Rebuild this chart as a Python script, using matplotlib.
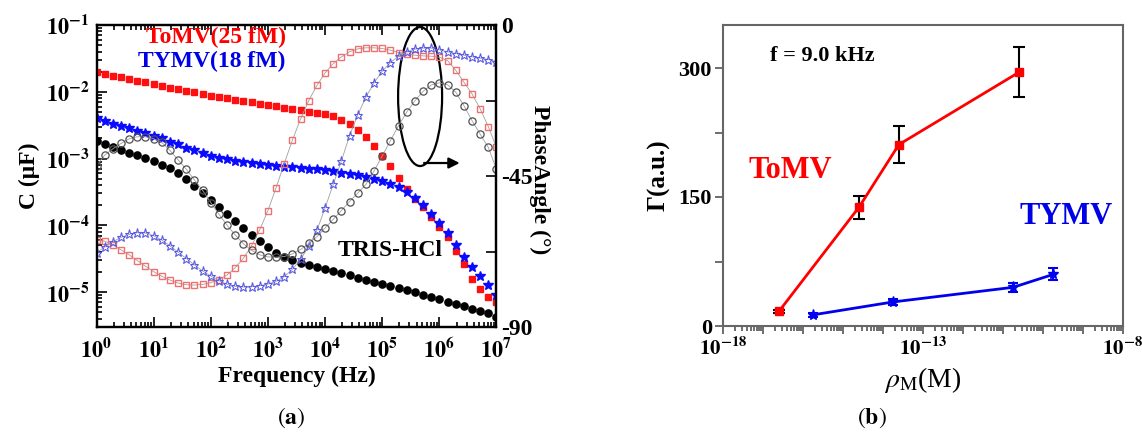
import numpy as np
import matplotlib
matplotlib.use('Agg')
import matplotlib.pyplot as plt
from matplotlib.patches import Ellipse
from matplotlib.ticker import FixedLocator, LogLocator, FuncFormatter, NullFormatter

plt.rcParams['font.family'] = ['Liberation Serif', 'DejaVu Serif']
plt.rcParams['mathtext.fontset'] = 'stix'

# ---------------- data: panel (a) ----------------
freq_hz = np.logspace(0, 7, 50)

# log10 of capacitance (uF)
tomv_logC = [-1.70, -1.73, -1.76, -1.78, -1.81, -1.84, -1.86, -1.89, -1.91, -1.94,
             -1.96, -1.99, -2.01, -2.04, -2.06, -2.08, -2.10, -2.12, -2.14, -2.16,
             -2.18, -2.20, -2.22, -2.24, -2.26, -2.28, -2.30, -2.32, -2.34, -2.37,
             -2.42, -2.49, -2.58, -2.68, -2.81, -2.96, -3.11, -3.29, -3.46, -3.60,
             -3.73, -3.87, -4.02, -4.17, -4.38, -4.58, -4.80, -4.96, -5.07, -5.15]
tymv_logC = [-2.40, -2.44, -2.48, -2.52, -2.55, -2.59, -2.62, -2.66, -2.70, -2.75,
             -2.79, -2.84, -2.88, -2.92, -2.96, -2.99, -3.01, -3.03, -3.05, -3.07,
             -3.08, -3.10, -3.11, -3.12, -3.13, -3.14, -3.15, -3.16, -3.17, -3.19,
             -3.21, -3.23, -3.25, -3.27, -3.30, -3.34, -3.38, -3.43, -3.50, -3.59,
             -3.70, -3.83, -3.97, -4.12, -4.30, -4.47, -4.62, -4.76, -4.89, -5.04]
tris_logC = [-2.74, -2.78, -2.83, -2.87, -2.91, -2.95, -2.99, -3.03, -3.09, -3.14,
             -3.22, -3.31, -3.41, -3.51, -3.62, -3.73, -3.83, -3.94, -4.04, -4.14,
             -4.24, -4.33, -4.41, -4.47, -4.52, -4.56, -4.60, -4.63, -4.66, -4.69,
             -4.72, -4.75, -4.79, -4.82, -4.85, -4.88, -4.91, -4.94, -4.97, -5.00,
             -5.04, -5.07, -5.11, -5.15, -5.18, -5.21, -5.25, -5.28, -5.32, -5.37]

# phase angle (degrees)
tomv_phase = [-64.0, -64.4, -65.5, -67.0, -68.5, -70.2, -71.9, -73.5, -74.9, -76.0,
              -76.9, -77.4, -77.5, -77.3, -76.8, -75.9, -74.5, -72.3, -69.5, -65.8,
              -61.0, -55.3, -48.5, -41.3, -34.3, -28.0, -22.5, -18.0, -14.3, -11.5,
              -9.5, -8.0, -7.1, -6.8, -6.8, -7.0, -7.5, -8.2, -8.6, -9.0,
              -9.2, -9.3, -9.6, -10.6, -13.5, -17.0, -20.5, -25.0, -30.3, -36.5]
tymv_phase = [-67.8, -66.2, -64.6, -63.3, -62.4, -61.9, -62.0, -62.8, -64.1, -65.8,
              -67.7, -69.6, -71.5, -73.3, -74.8, -76.2, -77.3, -77.9, -78.1, -78.0,
              -77.7, -77.2, -76.4, -75.0, -72.8, -69.8, -66.0, -61.2, -54.5, -47.5,
              -40.5, -33.0, -26.8, -21.5, -17.2, -13.8, -11.2, -9.3, -8.0, -7.2,
              -6.9, -6.9, -7.4, -8.0, -8.5, -9.0, -9.5, -9.9, -10.3, -10.9]
tris_phase = [-42.0, -38.8, -36.9, -35.3, -33.9, -33.3, -33.3, -33.9, -35.0, -37.4,
              -40.2, -43.0, -46.2, -49.3, -52.9, -56.4, -59.7, -62.6, -65.2, -67.2,
              -68.5, -69.1, -69.2, -69.0, -68.2, -66.9, -65.1, -63.1, -60.5, -57.9,
              -55.3, -52.6, -50.1, -47.5, -43.5, -39.0, -34.5, -30.0, -26.0, -22.6,
              -19.8, -17.9, -17.2, -17.8, -20.0, -24.0, -28.5, -32.5, -36.5, -43.0]

# ---------------- data: panel (b) ----------------
conc_tomv = [2.5e-17, 2.5e-15, 2.5e-14, 2.5e-11]
gamma_tomv = [17, 138, 211, 295]
err_tomv = [2, 13, 21, 29]
conc_tymv = [1.8e-16, 1.8e-14, 1.8e-11, 1.8e-10]
gamma_tymv = [13, 28, 45, 60]
err_tymv = [2, 3, 5, 7]

W, H = 1142, 432
fig = plt.figure(figsize=(W / 100, H / 100), dpi=100)


def fx(px):
    return px / W


def fy(py):
    return 1 - py / H


bold_pow = FuncFormatter(lambda v, p: r'$\mathbf{10^{%d}}$' % int(round(np.log10(v))))

# ---------------- panel (a) ----------------
ax = fig.add_axes([fx(96.5), fy(327), 400 / W, 302 / H])
ax.set_xscale('log')
ax.set_yscale('log')
ax.set_xlim(1, 1e7)
ax.set_ylim(10 ** -5.524, 1e-1)

ax.plot(freq_hz, 10 ** np.array(tomv_logC), 's', color='#ff1010', ms=4.6, mec='#ff1010', zorder=3)
ax.plot(freq_hz, 10 ** np.array(tymv_logC), '*', color='#0a0aff', ms=7, mec='#0a0aff', zorder=3)
ax.plot(freq_hz, 10 ** np.array(tris_logC), 'o', color='black', ms=5.2, zorder=3)

ax.xaxis.set_major_locator(LogLocator(base=10, numticks=20))
ax.xaxis.set_minor_locator(LogLocator(base=10, subs=np.arange(2, 10), numticks=20))
ax.yaxis.set_major_locator(LogLocator(base=10, numticks=20))
ax.yaxis.set_minor_locator(LogLocator(base=10, subs=np.arange(2, 10), numticks=20))
ax.xaxis.set_major_formatter(bold_pow)
ax.yaxis.set_major_formatter(bold_pow)
ax.xaxis.set_minor_formatter(NullFormatter())
ax.yaxis.set_minor_formatter(NullFormatter())
ax.tick_params(which='both', direction='in', top=True, right=False, width=1.2)
ax.tick_params(which='major', length=7, labelsize=16, pad=5)
ax.tick_params(axis='x', which='major', pad=8)
ax.tick_params(which='minor', length=3.5)
for s in ax.spines.values():
    s.set_linewidth(1.6)

ax2 = ax.twinx()
ax2.set_ylim(-90, 0)
ax2.plot(freq_hz, tomv_phase, 's', ls='-', lw=0.6, color='#a0a0a0', mfc='none',
         mec='#f07070', ms=4.8, mew=1.0)
ax2.plot(freq_hz, tymv_phase, '*', ls='-', lw=0.6, color='#a0a0a0', mfc='none',
         mec='#5a5ae6', ms=6.5, mew=0.8)
ax2.plot(freq_hz, tris_phase, 'o', ls='-', lw=0.6, color='#a0a0a0', mfc='none',
         mec='#505050', ms=5.2, mew=0.9)
ax2.yaxis.set_major_locator(FixedLocator([-90, -45, 0]))
ax2.yaxis.set_minor_locator(FixedLocator([-67.5, -22.5]))
ax2.yaxis.set_major_formatter(FuncFormatter(lambda v, p: '%d' % v))
ax2.tick_params(which='both', direction='in', width=1.2)
ax2.tick_params(which='major', length=7, labelsize=17, pad=3)
ax2.tick_params(which='minor', length=7)
for lab in ax2.get_yticklabels():
    lab.set_fontweight('bold')
for s in ax2.spines.values():
    s.set_linewidth(1.6)

ax.add_patch(Ellipse((0.809, 0.763), 0.11, 0.46, transform=ax.transAxes,
                     fill=False, lw=1.6, ec='black', zorder=5))
ax.annotate('', xy=(0.915, 0.543), xytext=(0.812, 0.543), xycoords='axes fraction',
            arrowprops=dict(arrowstyle='-|>', color='black', lw=1.6, mutation_scale=16),
            zorder=5)

ax.set_xlabel('Frequency (Hz)', fontsize=17, fontweight='bold', labelpad=2)
ax.set_ylabel('C (μF)', fontsize=17, fontweight='bold', labelpad=4)
fig.text(fx(540), fy(180), 'PhaseAngle (°)', rotation=-90, ha='center', va='center',
         fontsize=17, fontweight='bold')

fig.text(fx(216), fy(37), 'ToMV(25 fM)', color='#ff0000', fontsize=17, fontweight='bold',
         ha='center', va='center')
fig.text(fx(212), fy(61), 'TYMV(18 fM)', color='#0000e6', fontsize=17, fontweight='bold',
         ha='center', va='center')
fig.text(fx(390), fy(250), 'TRIS-HCl', color='black', fontsize=17, fontweight='bold',
         ha='center', va='center')
fig.text(fx(291), fy(418), r'$(\mathbf{a})$', fontsize=17, ha='center', va='center')

# ---------------- panel (b) ----------------
bx = fig.add_axes([fx(723), fy(326), 400 / W, 301 / H])
bx.set_xscale('log')
bx.set_xlim(1e-18, 1e-8)
bx.set_ylim(0, 350)
bx.errorbar(conc_tomv, gamma_tomv, yerr=err_tomv, color='#ff0000', lw=2, marker='s', ms=6,
            ecolor='black', elinewidth=1.5, capsize=4, capthick=1.5, zorder=3)
bx.errorbar(conc_tymv, gamma_tymv, yerr=err_tymv, color='#0000ee', lw=2, marker='*', ms=8,
            ecolor='#0000ee', elinewidth=1.5, capsize=3.5, capthick=1.5, zorder=3)

bx.xaxis.set_major_locator(LogLocator(base=10, numticks=20))
bx.xaxis.set_minor_locator(LogLocator(base=10, subs=np.arange(2, 10), numticks=20))
bx.xaxis.set_major_formatter(FuncFormatter(
    lambda v, p: (r'$\mathbf{10^{%d}}$' % int(round(np.log10(v))))
    if int(round(np.log10(v))) in (-18, -13, -8) else ''))
bx.xaxis.set_minor_formatter(NullFormatter())
bx.yaxis.set_major_locator(FixedLocator([0, 150, 300]))
bx.yaxis.set_minor_locator(FixedLocator([75, 225]))
bx.tick_params(which='both', direction='out', width=1.2, color='#555555')
bx.tick_params(which='major', length=6, labelsize=16, pad=2)
bx.tick_params(axis='x', which='major', labelsize=15)
bx.tick_params(which='minor', length=3.5)
bx.tick_params(axis='y', which='minor', length=6)
for lab in bx.get_yticklabels():
    lab.set_fontweight('bold')
for s in bx.spines.values():
    s.set_linewidth(1.5)
    s.set_color('#666666')

bx.set_ylabel('Γ(a.u.)', fontsize=18, fontweight='bold', labelpad=6)
bx.set_xlabel(r'$\rho_{\mathrm{M}}$(M)', fontsize=20, labelpad=4)
fig.text(fx(822), fy(56), 'f = 9.0 kHz', fontsize=16, fontweight='bold', ha='center', va='center')
fig.text(fx(790), fy(171), 'ToMV', color='#ff0000', fontsize=22, fontweight='bold',
         ha='center', va='center')
fig.text(fx(1066), fy(216), 'TYMV', color='#0000e6', fontsize=22, fontweight='bold',
         ha='center', va='center')
fig.text(fx(872), fy(418), r'$(\mathbf{b})$', fontsize=17, ha='center', va='center')

fig.savefig('out.png', dpi=100)
